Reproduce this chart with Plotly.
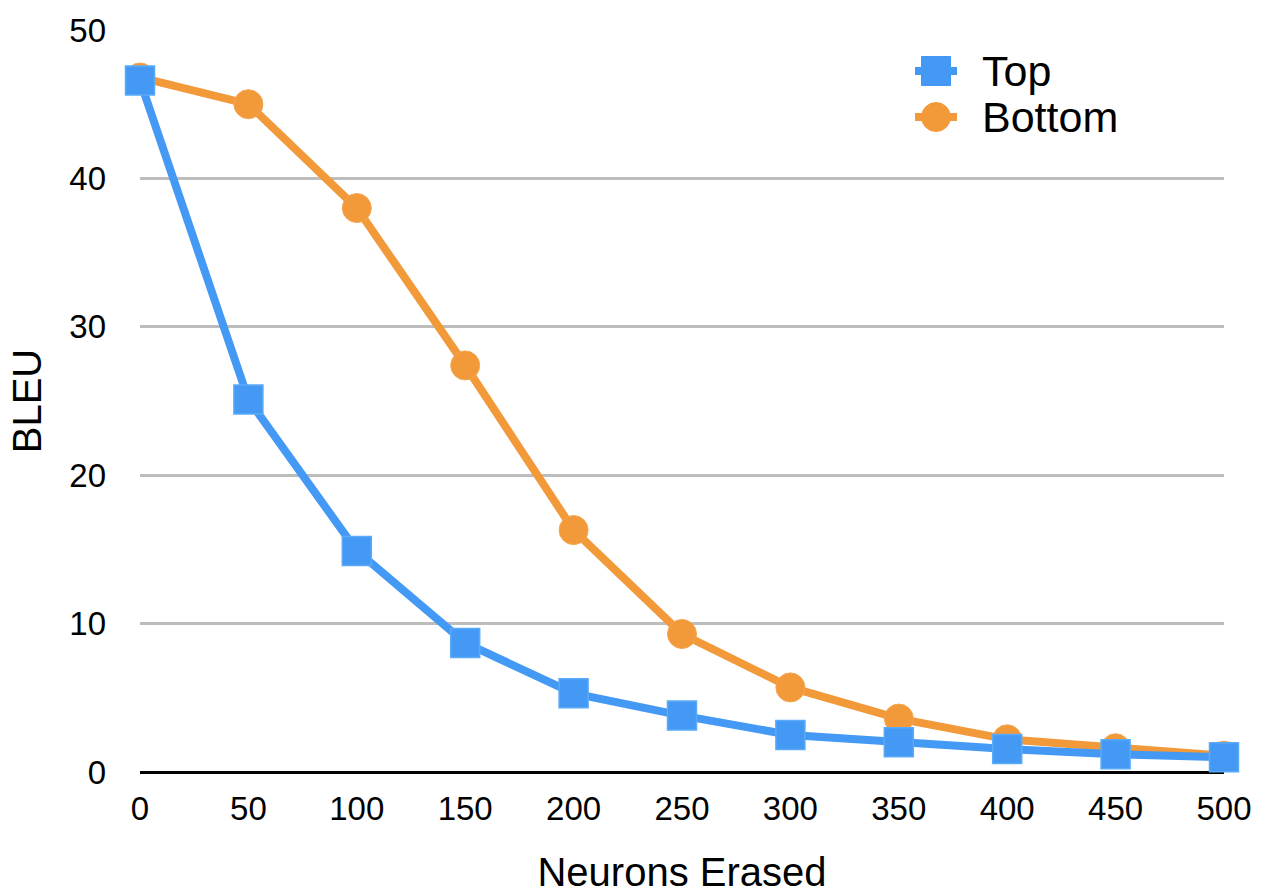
import plotly.graph_objects as go

neurons = [0, 50, 100, 150, 200, 250, 300, 350, 400, 450, 500]
top = [46.6, 25.1, 14.9, 8.7, 5.3, 3.8, 2.5, 2.0, 1.55, 1.2, 1.0]
bottom = [46.8, 45.0, 38.0, 27.4, 16.3, 9.3, 5.7, 3.6, 2.2, 1.6, 1.1]
y_ticks = [0, 10, 20, 30, 40, 50]
x_ticks = neurons
series_names = ["Top", "Bottom"]

BLUE = "#4499F5"
ORANGE = "#F2993A"
FONT = "Liberation Sans, Arial, Helvetica, sans-serif"

W, H = 1262, 894
L, R, T, B = 140, 38, 30, 122
PW, PH = W - L - R, H - T - B


def px(x):
    return (x - L) / PW


def py(y):
    return 1 - (y - T) / PH


fig = go.Figure()
fig.add_trace(go.Scatter(
    x=neurons, y=bottom, name=series_names[1], mode="lines+markers",
    line=dict(color=ORANGE, width=8),
    marker=dict(symbol="circle", size=29, color=ORANGE, line=dict(color="#F4A650", width=1)),
    cliponaxis=False, showlegend=False,
))
fig.add_trace(go.Scatter(
    x=neurons, y=top, name=series_names[0], mode="lines+markers",
    line=dict(color=BLUE, width=8),
    marker=dict(symbol="square", size=29, color=BLUE, line=dict(color="#5AAAF8", width=1.5)),
    cliponaxis=False, showlegend=False,
))

# custom legend (large symbols like the reference)
shapes = []
annotations = []
legend_rows = [(series_names[0], BLUE, "square", 71), (series_names[1], ORANGE, "circle", 117)]
for name, col, sym, yc in legend_rows:
    shapes.append(dict(type="line", xref="paper", yref="paper",
                       x0=px(915), x1=px(957), y0=py(yc), y1=py(yc),
                       line=dict(color=col, width=8)))
    shapes.append(dict(type="rect" if sym == "square" else "circle",
                       xref="paper", yref="paper",
                       x0=px(936 - 14.5), x1=px(936 + 14.5),
                       y0=py(yc + 14.5), y1=py(yc - 14.5),
                       fillcolor=col, line=dict(color=col, width=1)))
    annotations.append(dict(text=name, xref="paper", yref="paper",
                            x=px(980), y=py(yc), xanchor="left", yanchor="middle",
                            showarrow=False, font=dict(size=43, family=FONT, color="black")))

fig.update_layout(
    width=W, height=H,
    margin=dict(l=L, r=R, t=T, b=B),
    paper_bgcolor="white", plot_bgcolor="white",
    font=dict(family=FONT, color="black"),
    showlegend=False,
    shapes=shapes, annotations=annotations,
    xaxis=dict(range=[0, 500], tickvals=x_ticks, ticktext=[str(v) for v in x_ticks],
               showgrid=False, zeroline=False, showline=False, automargin=False,
               tickfont=dict(size=33), ticklabelstandoff=14,
               title=dict(text="Neurons Erased", font=dict(size=40), standoff=32)),
    yaxis=dict(range=[0, 50], tickvals=y_ticks, ticktext=[str(v) for v in y_ticks],
               showgrid=True, gridcolor="#BDBDBD", gridwidth=2.5,
               zeroline=True, zerolinecolor="black", zerolinewidth=2.5,
               showline=False, automargin=False, tickfont=dict(size=33), ticklabelstandoff=33,
               title=dict(text="BLEU", font=dict(size=40), standoff=15)),
)

fig.write_html("out.html", config={"displayModeBar": False},
               post_script="document.body.style.margin='0';document.body.style.overflow='hidden';")
